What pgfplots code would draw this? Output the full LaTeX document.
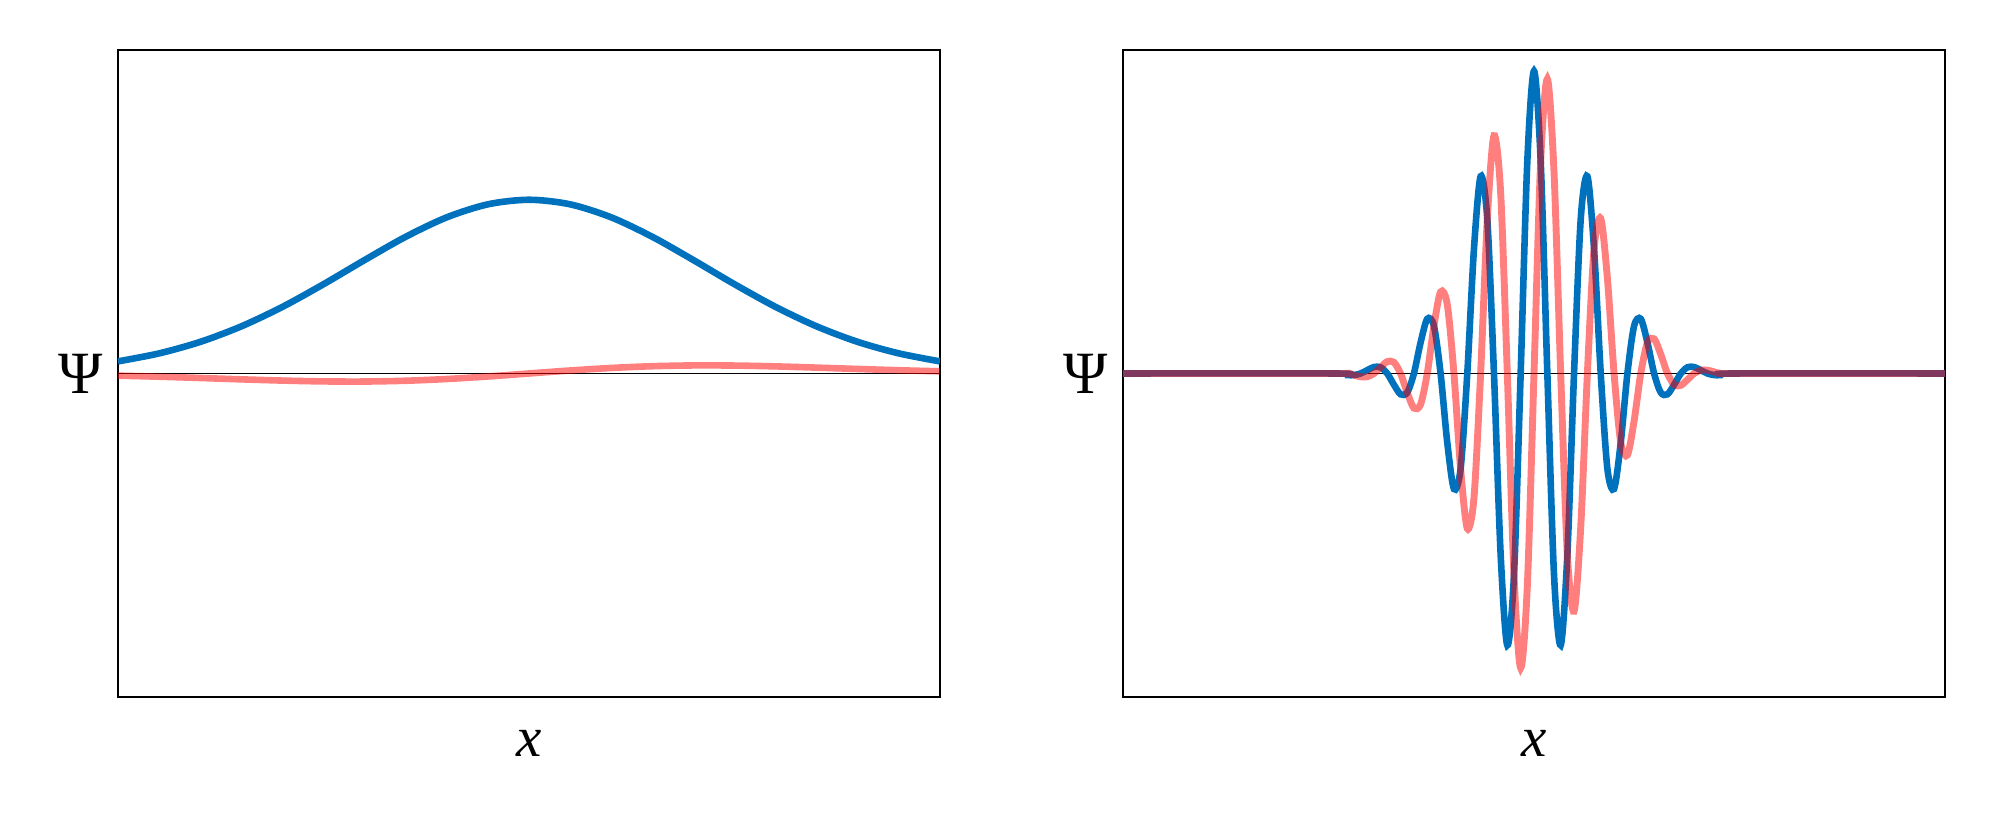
\documentclass[border=0pt]{standalone}
\usepackage{pgfplots}
\pgfplotsset{compat=1.18}
\usepackage{pgfplotstable}
\usepackage{fontspec}
\setmainfont{Liberation Serif}
\definecolor{mblue}{RGB}{0,114,189}

\pgfplotstableread{
u b r
-1.0 0.0374 -0.00669
-0.9 0.0621 -0.00998
-0.8 0.0976 -0.01392
-0.7 0.1456 -0.01813
-0.6 0.2058 -0.02194
-0.5 0.2759 -0.02448
-0.4 0.3506 -0.02487
-0.3 0.4225 -0.02246
-0.2 0.4827 -0.01709
-0.1 0.5229 -0.00926
0 0.537 0
0.1 0.5229 0.00926
0.2 0.4827 0.01709
0.3 0.4225 0.02246
0.4 0.3506 0.02487
0.5 0.2759 0.02448
0.6 0.2058 0.02194
0.7 0.1456 0.01813
0.8 0.0976 0.01392
0.9 0.0621 0.00998
1.0 0.0374 0.00669
}\leftdata

\pgfplotstableread{
n b r
-15.4 0 0
-7.5 0 0
-7 -0.0049 0
-6.75 -0.0050 -0.0050
-6.5 0 -0.0102
-6.25 0.0101 -0.0101
-6 0.0199 0
-5.75 0.0192 0.0192
-5.5 0 0.0367
-5.25 -0.0346 0.0346
-5 -0.0644 0
-4.75 -0.0591 -0.0591
-4.5 0 -0.1071
-4.25 0.0957 -0.0957
-4 0.1688 0
-3.75 0.1469 0.1469
-3.5 0 0.2521
-3.25 -0.2135 0.2135
-3 -0.3569 0
-2.75 -0.2944 -0.2944
-2.5 0 -0.4791
-2.25 0.3847 -0.3847
-2 0.6095 0
-1.75 0.4764 0.4764
-1.5 0 0.7350
-1.25 -0.5594 0.5594
-1 -0.8401 0
-0.75 -0.6225 -0.6225
-0.5 0 -0.9103
-0.25 0.6568 -0.6568
0 0.935 0
0.25 0.6568 0.6568
0.5 0 0.9103
0.75 -0.6225 0.6225
1 -0.8401 0
1.25 -0.5594 -0.5594
1.5 0 -0.7350
1.75 0.4764 -0.4764
2 0.6095 0
2.25 0.3847 0.3847
2.5 0 0.4791
2.75 -0.2944 0.2944
3 -0.3569 0
3.25 -0.2135 -0.2135
3.5 0 -0.2521
3.75 0.1469 -0.1469
4 0.1688 0
4.25 0.0957 0.0957
4.5 0 0.1071
4.75 -0.0591 0.0591
5 -0.0644 0
5.25 -0.0346 -0.0346
5.5 0 -0.0367
5.75 0.0192 -0.0192
6 0.0199 0
6.25 0.0101 0.0101
6.5 0 0.0102
6.75 -0.0050 0.0050
7 -0.0049 0
7.5 0 0
15.4 0 0
}\rightdata

\pgfplotsset{psistyle/.style={
  scale only axis, width=274pt, height=215.67pt,
  ymin=-1, ymax=1, ticks=none,
  axis line style={line width=0.7pt},
  xlabel={\fontsize{19}{21}\selectfont\itshape x},
  ylabel={\fontsize{20}{22}\selectfont Ψ},
  xlabel style={at={(axis description cs:0.5,0)}, anchor=north, inner sep=0pt, yshift=-11pt},
  ylabel style={at={(axis description cs:0,0.5)}, rotate=-90, anchor=east, inner sep=0pt, xshift=-5pt},
}}

\begin{document}
\begin{tikzpicture}
\path[use as bounding box] (-39.33pt,-42.67pt) rectangle (625.33pt,232.33pt);
\begin{axis}[psistyle, at={(0pt,0pt)}, anchor=south west, xmin=-1, xmax=1]
\addplot[black, line width=0.65pt] coordinates {(-1,0) (1,0)};
\addplot[mblue, line width=2.2pt, smooth] table[x=u, y=b] {\leftdata};
\addplot[red, opacity=0.5, line width=2.2pt, smooth] table[x=u, y=r] {\leftdata};
\end{axis}
\begin{axis}[psistyle, at={(335pt,0pt)}, anchor=south west, xmin=-15.4, xmax=15.4]
\addplot[black, line width=0.65pt] coordinates {(-15.4,0) (15.4,0)};
\addplot[mblue, line width=2.2pt, smooth] table[x=n, y=b] {\rightdata};
\addplot[red, opacity=0.5, line width=2.3pt, smooth] table[x=n, y=r] {\rightdata};
\end{axis}
\end{tikzpicture}
\end{document}
